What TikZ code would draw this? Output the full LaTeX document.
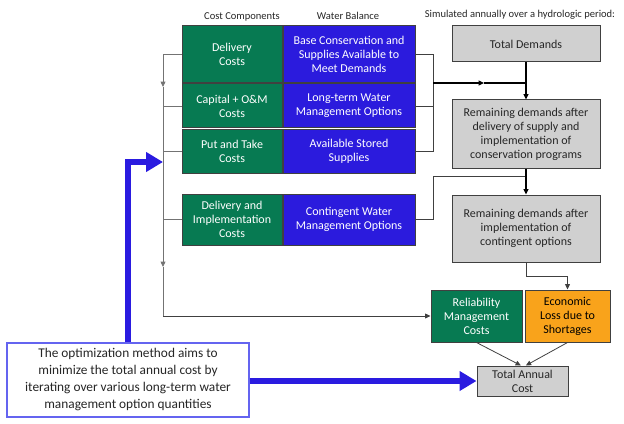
\documentclass[tikz,border=0pt]{standalone}
\usepackage{fontspec}
\setmainfont{Carlito}
\usetikzlibrary{arrows.meta}
\definecolor{grn}{HTML}{077A52}
\definecolor{blu}{HTML}{2B1BDD}
\definecolor{gry}{HTML}{D0D0D0}
\definecolor{org}{HTML}{F9A31B}
\definecolor{edge}{HTML}{404040}
\definecolor{optb}{HTML}{6464F0}
\definecolor{thick}{HTML}{2A1BE0}
\tikzset{
  x=0.75pt, y=-0.75pt,
  box/.style={draw=edge, line width=0.75pt, align=center, inner sep=1pt,
    font=\fontsize{9}{10.5}\selectfont},
  gbox/.style={box, fill=grn, text=white},
  bbox/.style={box, fill=blu, text=white},
  graybox/.style={box, fill=gry, text=black!85},
  obox/.style={box, fill=org, text=black},
  hdr/.style={font=\fontsize{7.9}{9}\selectfont, text=black!85, inner sep=0pt},
  conn/.style={draw=edge, line width=0.6pt},
  arr/.style={conn, -{Triangle[length=4pt,width=3.6pt]}},
  big/.style={draw=thick, line width=4.5pt},
}
\begin{document}
\begin{tikzpicture}
\useasboundingbox (0,0) rectangle (624,424);
% headers
\node[hdr] (h1) at (242,17) {Cost Components};
\node[hdr] (h2) at (348,16) {Water Balance};
\node[hdr] (h3) at (520,15) {Simulated annually over a hydrologic period:};
% cost / water balance rows
\node[gbox, minimum width=75pt, minimum height=42.75pt] (g1) at (232,54.5) {Delivery\\Costs};
\node[bbox, minimum width=99pt, minimum height=42.75pt] (b1) at (349,54.5) {Base Conservation and\\Supplies Available to\\Meet Demands};
\node[gbox, minimum width=75pt, minimum height=33pt] (g2) at (232,106) {Capital + O\&M\\Costs};
\node[bbox, minimum width=99pt, minimum height=33pt] (b2) at (349,106) {Long-term Water\\Management Options};
\node[gbox, minimum width=75pt, minimum height=32.25pt] (g3) at (232,151.5) {Put and Take\\Costs};
\node[bbox, minimum width=99pt, minimum height=32.25pt] (b3) at (349,151.5) {Available Stored\\Supplies};
\node[gbox, minimum width=75pt, minimum height=38.25pt] (g4) at (232,219.5) {Delivery and\\Implementation\\Costs};
\node[bbox, minimum width=99pt, minimum height=38.25pt] (b4) at (349,219.5) {Contingent Water\\Management Options};
% right column
\node[graybox, minimum width=111pt, minimum height=27pt] (td) at (526,44) {Total Demands};
\node[graybox, minimum width=111pt, minimum height=51pt] (r1) at (526,134) {Remaining demands after\\delivery of supply and\\implementation of\\conservation programs};
\node[graybox, minimum width=111pt, minimum height=50.25pt] (r2) at (526,228.5) {Remaining demands after\\implementation of\\contingent options};
\node[gbox, minimum width=68.25pt, minimum height=39pt] (rel) at (476.5,316) {Reliability\\Management\\Costs};
\node[obox, minimum width=63.75pt, minimum height=39pt] (eco) at (567.5,316) {Economic\\Loss due to\\Shortages};
\node[graybox, minimum width=68.25pt, minimum height=22.5pt] (tac) at (522.5,381) {Total Annual\\Cost};
\node[draw=optb, line width=0.9pt, fill=white, align=center, minimum width=181.5pt, minimum height=55.5pt,
  font=\fontsize{10}{12.75}\selectfont, text=black!85] (opt) at (128,380)
  {The optimization method aims to\\minimize the total annual cost by\\iterating over various long-term water\\management option quantities};
% coordinates
\coordinate (L1) at (163,54.5);
\coordinate (La) at (163,87);
\coordinate (Lb) at (163,267);
\coordinate (L2) at (163,316);
\coordinate (R1) at (433,54.5);
\coordinate (R3) at (433,151.5);
\coordinate (Rm) at (433,83);
\coordinate (Ra) at (484,83);
\coordinate (Rj) at (526,83);
\coordinate (R4) at (433,219.5);
\coordinate (R4t) at (433,176);
\coordinate (R4j) at (526,176);
\coordinate (S1) at (526,276);
\coordinate (S2) at (567.5,276);
% left collector
\draw[arr, draw=black!55] (g1.west) -- (L1) -- (La);
\draw[arr, draw=black!55] (La) -- (Lb);
\draw[conn, draw=black!55] (Lb) -- (L2);
\draw[arr] (L2) -- (rel.west);
\draw[conn, draw=black!55] (g2.west) -- (g2.west -| L1);
\draw[conn, draw=black!55] (g3.west) -- (g3.west -| L1);
\draw[conn, draw=black!55] (g4.west) -- (g4.west -| L1);
% right collector
\draw[conn] (b1.east) -- (R1) -- (R3) -- (b3.east);
\draw[conn] (b2.east) -- (b2.east -| R1);
\draw[arr, line width=0.9pt, draw=black] (Rm) -- (Ra);
\draw[conn, line width=0.9pt, draw=black] (Ra) -- (Rj);
\draw[arr, line width=0.9pt, draw=black] (td.south) -- (r1.north);
\draw[conn] (b4.east) -- (R4) -- (R4t) -- (R4j);
\draw[arr, line width=0.9pt, draw=black] (r1.south) -- (r2.north);
\draw[arr] (r2.south) -- (S1) -- (S2) -- (eco.north);
\draw[arr] (rel.south) -- ([xshift=-1.2pt]tac.north);
\draw[arr] (eco.south) -- ([xshift=2.5pt]tac.north);
% thick blue arrows
\draw[big, -{Triangle[length=12.75pt,width=14.25pt]}] (opt.north) -- (128,162) -- (163,162);
\draw[big, -{Triangle[length=12.75pt,width=14.25pt]}] (opt.east |- tac.west) -- (tac.west);
\end{tikzpicture}
\end{document}
